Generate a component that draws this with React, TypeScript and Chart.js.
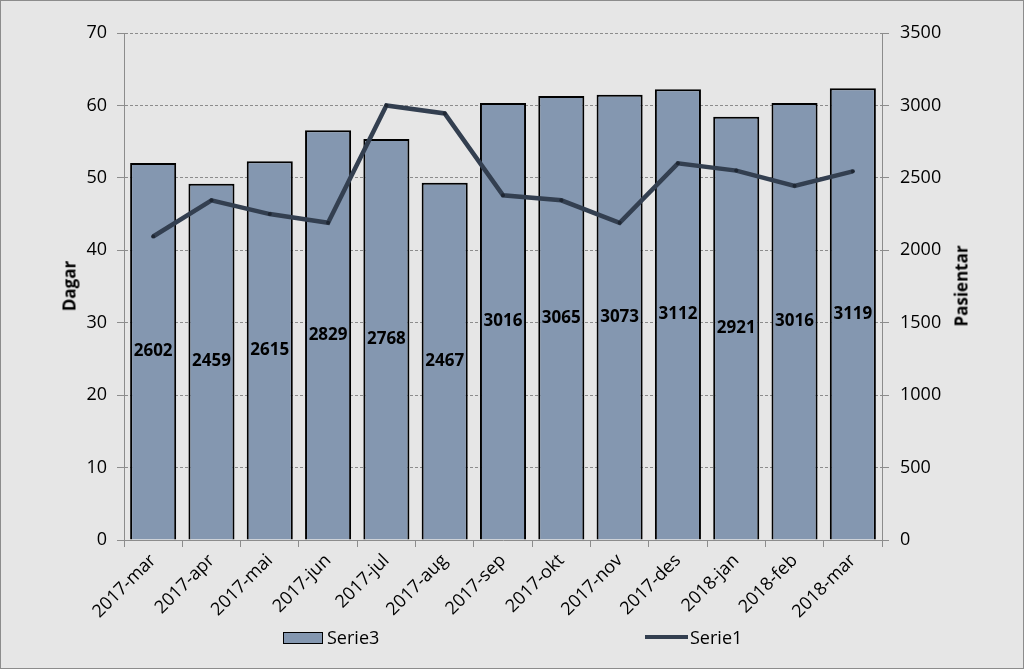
import React, { useEffect, useRef } from "react";
import { Chart, registerables } from "chart.js";
Chart.register(...registerables);

const categories = [
  "2017-mar", "2017-apr", "2017-mai", "2017-jun", "2017-jul", "2017-aug", "2017-sep",
  "2017-okt", "2017-nov", "2017-des", "2018-jan", "2018-feb", "2018-mar",
];
const serie3Pasientar = [2602, 2459, 2615, 2829, 2768, 2467, 3016, 3065, 3073, 3112, 2921, 3016, 3119];
const serie1Dagar = [41.9, 46.9, 45.0, 43.8, 60.0, 58.9, 47.6, 46.9, 43.8, 52.0, 51.0, 48.9, 50.9];
const leftMax = 70;
const leftStep = 10;
const rightMax = 3500;
const rightStep = 500;

const FONT = "'Open Sans', 'DejaVu Sans', sans-serif";
const BAR_COLOR = "#8497b0";
const LINE_COLOR = "#333f50";
const GRID_COLOR = "#8c8c8c";

const barLabels = {
  id: "barLabels",
  afterDatasetsDraw(chart: any) {
    const ctx = chart.ctx;
    chart.data.datasets.forEach((ds: any, di: number) => {
      if (ds.type !== "bar") return;
      const meta = chart.getDatasetMeta(di);
      ctx.save();
      ctx.font = `bold 17px ${FONT}`;
      ctx.fillStyle = "#000";
      ctx.textAlign = "center";
      ctx.textBaseline = "middle";
      meta.data.forEach((el: any, i: number) => {
        const y = (el.y + el.base) / 2;
        ctx.fillText(String(ds.data[i]), el.x, y);
      });
      ctx.restore();
    });
  },
};

export default function App() {
  const ref = useRef<HTMLCanvasElement>(null);
  useEffect(() => {
    if (!ref.current) return;
    const chart = new Chart(ref.current, {
      type: "bar",
      data: {
        labels: categories,
        datasets: [
          {
            type: "line",
            label: "Serie1",
            data: serie1Dagar,
            yAxisID: "y",
            borderColor: LINE_COLOR,
            backgroundColor: LINE_COLOR,
            borderWidth: 4.5,
            pointRadius: 2,
            pointBackgroundColor: "#1f2733",
            pointBorderWidth: 0,
            tension: 0,
            order: 0,
          } as any,
          {
            type: "bar",
            label: "Serie3",
            data: serie3Pasientar,
            yAxisID: "y1",
            backgroundColor: BAR_COLOR,
            borderColor: "#000",
            borderWidth: 2,
            categoryPercentage: 1,
            barPercentage: 0.79,
            order: 1,
          } as any,
        ],
      },
      options: {
        animation: false,
        responsive: false,
        maintainAspectRatio: false,
        layout: { padding: { top: 33, left: 0, right: 0, bottom: 0 } },
        plugins: {
          legend: { display: false },
          tooltip: { enabled: false },
        },
        scales: {
          x: {
            offset: true,
            grid: {
              offset: true,
              drawOnChartArea: false,
              drawTicks: true,
              tickLength: 7,
              color: GRID_COLOR,
            },
            border: { display: true, color: GRID_COLOR, width: 1 },
            ticks: {
              color: "#000",
              font: { family: FONT, size: 18 },
              minRotation: 45,
              maxRotation: 45,
              padding: 3,
              autoSkip: false,
            },
            afterFit: (s: any) => {
              s.height = 669 - 540;
            },
          },
          y: {
            position: "left",
            min: 0,
            max: leftMax,
            ticks: {
              stepSize: leftStep,
              color: "#000",
              font: { family: FONT, size: 18 },
              padding: 10,
              callback: (v: any) => String(v),
            },
            grid: {
              color: GRID_COLOR,
              tickLength: 7,
              drawTicks: true,
            },
            border: { display: true, color: GRID_COLOR, width: 1, dash: [3, 2] },
            afterFit: (s: any) => {
              s.width = 124;
            },
          },
          y1: {
            position: "right",
            min: 0,
            max: rightMax,
            ticks: {
              stepSize: rightStep,
              color: "#000",
              font: { family: FONT, size: 18 },
              padding: 11,
              callback: (v: any) => String(v),
            },
            grid: {
              drawOnChartArea: false,
              color: GRID_COLOR,
              tickLength: 7,
              drawTicks: true,
            },
            border: { display: true, color: GRID_COLOR, width: 1 },
            afterFit: (s: any) => {
              s.width = 1024 - 882;
            },
          },
        },
      } as any,
      plugins: [barLabels],
    });
    return () => chart.destroy();
  }, []);

  const textStyle: React.CSSProperties = {
    position: "absolute",
    fontFamily: FONT,
    fontSize: 18,
    color: "#000",
    lineHeight: "20px",
    whiteSpace: "nowrap",
  };
  const titleStyle: React.CSSProperties = {
    position: "absolute",
    fontFamily: FONT,
    fontSize: 17,
    fontWeight: "bold",
    color: "#000",
    whiteSpace: "nowrap",
    transform: "translate(-50%, -50%) rotate(-90deg)",
  };

  return (
    <div
      style={{
        position: "absolute",
        left: 0,
        top: 0,
        width: 1024,
        height: 669,
        background: "#e6e6e6",
        overflow: "hidden",
      }}
    >
      <canvas ref={ref} width={1024} height={669} style={{ position: "absolute", left: 0, top: 0 }} />
      <div style={{ ...titleStyle, left: 69, top: 286 }}>Dagar</div>
      <div style={{ ...titleStyle, left: 961, top: 286 }}>Pasientar</div>
      <div
        style={{
          position: "absolute",
          left: 283,
          top: 632,
          width: 40,
          height: 12,
          boxSizing: "border-box",
          background: BAR_COLOR,
          border: "1.5px solid #000",
        }}
      />
      <div style={{ ...textStyle, left: 327, top: 627 }}>Serie3</div>
      <div
        style={{
          position: "absolute",
          left: 645,
          top: 635,
          width: 43,
          height: 4,
          background: LINE_COLOR,
        }}
      />
      <div style={{ ...textStyle, left: 690, top: 627 }}>Serie1</div>
      <div
        style={{
          position: "absolute",
          left: 0,
          top: 0,
          width: 1024,
          height: 669,
          boxSizing: "border-box",
          border: "1px solid #8c8c8c",
          pointerEvents: "none",
        }}
      />
    </div>
  );
}
